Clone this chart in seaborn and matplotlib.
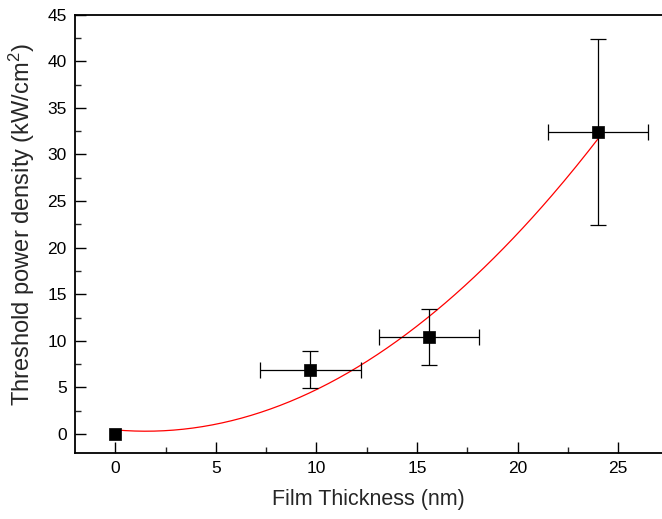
import numpy as np
import pandas as pd
import matplotlib
matplotlib.use("Agg")
import matplotlib.pyplot as plt
import seaborn as sns
from matplotlib.ticker import MultipleLocator

# Data
thickness = [0.0, 9.7, 15.6, 24.0]          # nm
power = [0.0, 6.9, 10.4, 32.4]              # kW/cm^2
thickness_err = [0.0, 2.5, 2.5, 2.5]
power_err = [0.0, 2.0, 3.0, 10.0]
# quadratic fit curve coefficients (a, b, c)
fit_coef = [0.0621, -0.189, 0.45]
fit_range = [0.0, 24.0]

sns.set_theme(style="ticks")
plt.rcParams['font.family'] = ['Liberation Sans', 'DejaVu Sans']
plt.rcParams['mathtext.fontset'] = 'custom'
plt.rcParams['mathtext.rm'] = 'Liberation Sans'
plt.rcParams['mathtext.it'] = 'Liberation Sans:italic'

fig = plt.figure(figsize=(6.62, 5.19), dpi=100)
ax = fig.add_axes([75/662, 1-452.7/519, 1-75/662, (452.7-14.7)/519])

df = pd.DataFrame({"x": thickness, "y": power})
xf = np.linspace(fit_range[0], fit_range[1], 200)
fit_df = pd.DataFrame({"x": xf, "y": np.polyval(fit_coef, xf)})

sns.lineplot(data=fit_df, x="x", y="y", color="red", lw=0.9, ax=ax, zorder=2)
ax.errorbar(thickness[1:], power[1:], xerr=thickness_err[1:], yerr=power_err[1:],
            fmt="none", ecolor="black", elinewidth=0.9, capsize=5.5, capthick=0.9, zorder=3)
sns.scatterplot(data=df, x="x", y="y", marker="s", s=75, color="black",
                edgecolor="black", linewidth=0.5, ax=ax, zorder=4)

ax.set_xlim(-2, 27.18)
ax.set_ylim(-2, 45)
ax.xaxis.set_major_locator(MultipleLocator(5))
ax.xaxis.set_minor_locator(MultipleLocator(2.5))
ax.yaxis.set_major_locator(MultipleLocator(5))
ax.yaxis.set_minor_locator(MultipleLocator(2.5))
ax.tick_params(which="major", direction="in", length=8, width=1, labelsize=12.5,
               colors="black", pad=6)
ax.tick_params(which="minor", direction="in", length=4, width=1)
ax.tick_params(top=False, right=False, which="both")
for s in ["left", "bottom", "top"]:
    ax.spines[s].set_linewidth(1.3)
    ax.spines[s].set_color("black")
ax.spines["right"].set_visible(False)

ax.set_xlabel("Film Thickness (nm)", fontsize=15.5, labelpad=9)
ax.set_ylabel(r"Threshold power density (kW/cm$^2$)", fontsize=17, labelpad=1)
ax.yaxis.set_label_coords(-0.065, 0.52)

fig.savefig("out.png", dpi=100)
